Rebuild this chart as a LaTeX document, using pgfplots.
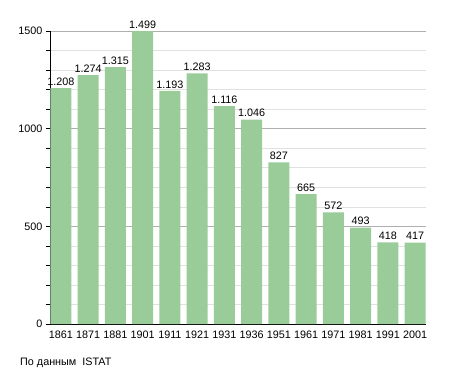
\documentclass[border=0pt]{standalone}
\usepackage{fontspec}
\setmainfont{Liberation Sans}
\usepackage{pgfplots}
\pgfplotsset{compat=1.18}
\definecolor{bargreen}{RGB}{153,204,153}
\definecolor{majgrid}{RGB}{175,175,175}
\definecolor{mingrid}{RGB}{225,225,225}
\newcommand{\chartfont}{\fontsize{10.8}{12}\selectfont}
\begin{document}
\begin{tikzpicture}
\useasboundingbox (0,0) rectangle (455pt,373pt);
\begin{axis}[
  at={(50pt,49pt)}, anchor=south west,
  scale only axis, width=376pt, height=293pt,
  xmin=-0.4, xmax=13.4, ymin=0, ymax=1500,
  axis x line=bottom, axis y line=left,
  axis line style={-, black, line width=0.9pt},
  xtick=data,
  xticklabels={1861,1871,1881,1901,1911,1921,1931,1936,1951,1961,1971,1981,1991,2001},
  x tick style={draw=none},
  ytick={0,500,1000,1500},
  minor ytick={100,200,300,400,600,700,800,900,1100,1200,1300,1400},
  tick align=outside,
  y tick style={black, line width=0.6pt},
  major tick length=4pt, minor tick length=4pt,
  ymajorgrids, yminorgrids,
  major grid style={majgrid, line width=0.6pt},
  minor grid style={mingrid, line width=0.5pt},
  yticklabel style={/pgf/number format/1000 sep={}, /pgf/number format/assume math mode=true, font=\chartfont},
  xticklabel style={font=\chartfont, yshift=1pt},
  ybar, bar width=21pt,
  clip=false,
  nodes near coords={\pgfmathprintnumber[1000 sep={.}, assume math mode=true]{\pgfplotspointmeta}},
  every node near coord/.append style={font=\chartfont, inner sep=2.5pt},
]
\addplot[fill=bargreen, draw=none] coordinates {
(0,1208) (1,1274) (2,1315) (3,1499) (4,1193) (5,1283) (6,1116)
(7,1046) (8,827) (9,665) (10,572) (11,493) (12,418) (13,417)};
\end{axis}
\node[anchor=base west, inner sep=0pt, font=\chartfont] at (20pt,8pt) {По данным\ \ ISTAT};
\end{tikzpicture}
\end{document}
